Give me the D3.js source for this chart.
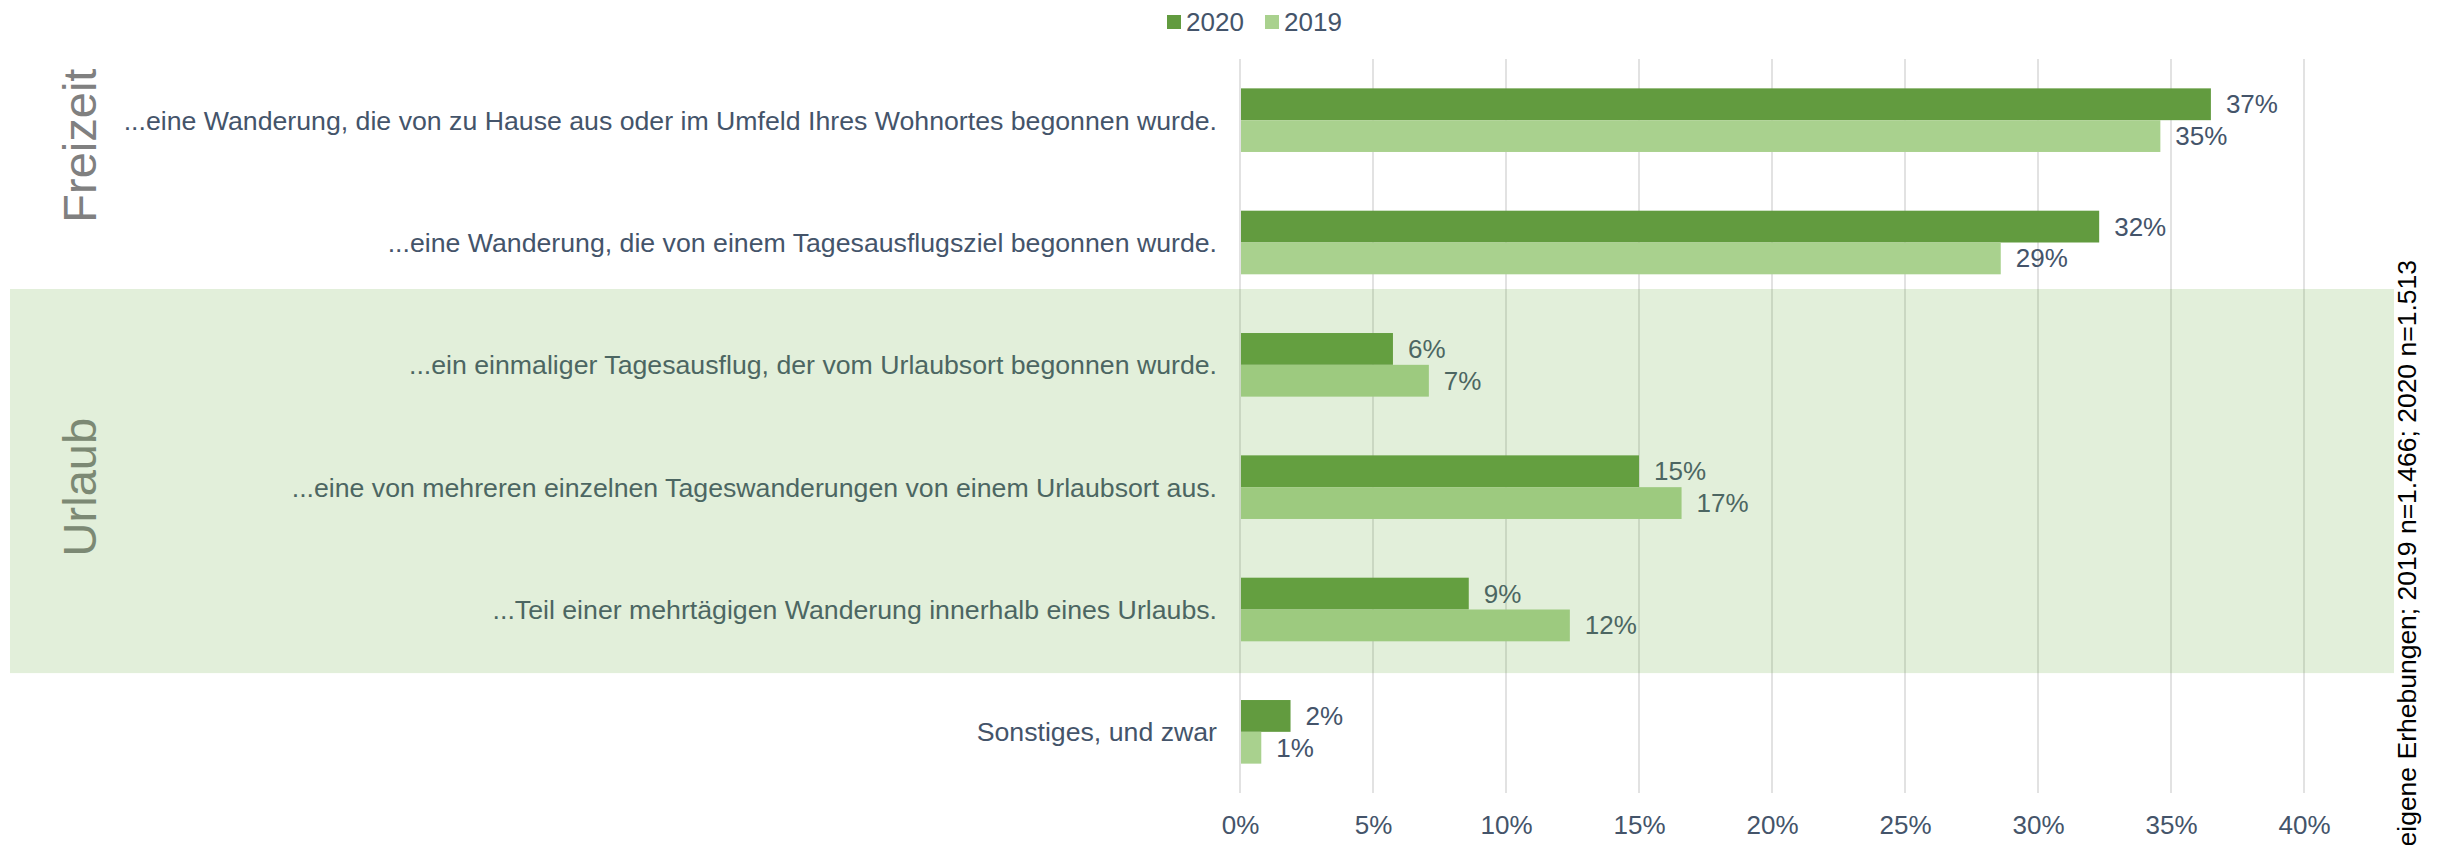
<!DOCTYPE html>
<html>
<head>
<meta charset="utf-8">
<script src="https://cdn.jsdelivr.net/npm/d3@7"></script>
<style>
  body { margin: 0; background: #fff; }
  text { font-family: "Liberation Sans", Arial, sans-serif; }
</style>
</head>
<body>
<script>
// Wanderanlass 2019 vs 2020, horizontal grouped bars

var categories = [
  '...eine Wanderung, die von zu Hause aus oder im Umfeld Ihres Wohnortes begonnen wurde.',
  '...eine Wanderung, die von einem Tagesausflugsziel begonnen wurde.',
  '...ein einmaliger Tagesausflug, der vom Urlaubsort begonnen wurde.',
  '...eine von mehreren einzelnen Tageswanderungen von einem Urlaubsort aus.',
  '...Teil einer mehrtägigen Wanderung innerhalb eines Urlaubs.',
  'Sonstiges, und zwar'
];
var seriesNames = ['2020', '2019'];
var values2020 = [0.365, 0.323, 0.0575, 0.150, 0.086, 0.019];
var values2019 = [0.346, 0.286, 0.071, 0.166, 0.124, 0.008];
var xTicks = [0, 0.05, 0.10, 0.15, 0.20, 0.25, 0.30, 0.35, 0.40];
var groupNames = ['Freizeit', 'Urlaub'];
var sourceNote = 'eigene Erhebungen; 2019 n=1.466; 2020 n=1.513';

var colors = { '2020': '#629b3f', '2019': '#a9d18e' };
var textColor = '#44546a';

var width = 2440, height = 845;

var svg = d3.select('body')
  .append('svg')
  .attr('width', width)
  .attr('height', height);

var x = d3.scaleLinear().domain([0, 0.40]).range([1240, 2304]);
var y = d3.scaleBand().domain(categories).range([59, 793])
  .paddingInner(0.48).paddingOuter(0.24);
var ySeries = d3.scaleBand().domain(seriesNames).range([0, y.bandwidth()]);

var rows = categories.map(function (c, i) {
  return { cat: c, values: [
    { key: '2020', v: values2020[i] },
    { key: '2019', v: values2019[i] }
  ] };
});

// gridlines
svg.append('g')
  .selectAll('line')
  .data(xTicks)
  .enter()
  .append('line')
  .attr('x1', function (d) { return x(d); })
  .attr('x2', function (d) { return x(d); })
  .attr('y1', y.range()[0])
  .attr('y2', y.range()[1])
  .attr('stroke', '#d9d9d9')
  .attr('stroke-width', 1.5);

// x axis labels
var xAxis = d3.axisBottom(x).tickValues(xTicks).tickFormat(d3.format('.0%')).tickSize(0).tickPadding(0);
var gx = svg.append('g')
  .attr('transform', 'translate(0,' + 834 + ')')
  .call(xAxis);
gx.select('.domain').remove();
gx.selectAll('text')
  .attr('dy', 0)
  .attr('y', 0)
  .style('font-size', '26px')
  .style('font-family', '"Liberation Sans", Arial, sans-serif')
  .attr('fill', textColor);

// bars
var groups = svg.append('g')
  .selectAll('g')
  .data(rows)
  .enter()
  .append('g')
  .attr('transform', function (d) { return 'translate(0,' + y(d.cat) + ')'; });

groups.selectAll('rect')
  .data(function (d) { return d.values; })
  .enter()
  .append('rect')
  .attr('x', x(0) + 1)
  .attr('y', function (d) { return ySeries(d.key); })
  .attr('width', function (d) { return x(d.v) - x(0) - 1; })
  .attr('height', ySeries.bandwidth())
  .attr('fill', function (d) { return colors[d.key]; });

groups.selectAll('text.val')
  .data(function (d) { return d.values; })
  .enter()
  .append('text')
  .attr('class', 'val')
  .attr('x', function (d) { return x(d.v) + 15; })
  .attr('y', function (d) { return ySeries(d.key) + ySeries.bandwidth() / 2; })
  .attr('dy', '0.35em')
  .attr('fill', textColor)
  .style('font-size', '26px')
  .text(function (d) { return d3.format('.0%')(d.v); });

// category labels
svg.append('g')
  .selectAll('text')
  .data(categories)
  .enter()
  .append('text')
  .attr('x', x(0) - 23)
  .attr('y', function (d) { return y(d) + y.bandwidth() / 2; })
  .attr('dy', '0.35em')
  .attr('text-anchor', 'end')
  .attr('fill', textColor)
  .style('font-size', '26.7px')
  .text(function (d) { return d; });

// group labels (rotated)
var groupY = [y(categories[0]) + y.bandwidth() * 0.9, (y(categories[2]) + y(categories[4]) + y.bandwidth()) / 2];
svg.append('g')
  .selectAll('text')
  .data(groupNames)
  .enter()
  .append('text')
  .attr('transform', function (d, i) { return 'translate(96,' + groupY[i] + ') rotate(-90)'; })
  .attr('text-anchor', 'middle')
  .attr('fill', '#808080')
  .style('font-size', '47px')
  .text(function (d) { return d; });

// legend
var legend = svg.append('g')
  .selectAll('g')
  .data(seriesNames)
  .enter()
  .append('g')
  .attr('transform', function (d, i) { return 'translate(' + (1167 + i * 98) + ',15)'; });
legend.append('rect')
  .attr('width', 14)
  .attr('height', 14)
  .attr('fill', function (d) { return colors[d]; });
legend.append('text')
  .attr('x', 19)
  .attr('y', 16)
  .attr('fill', textColor)
  .style('font-size', '26px')
  .text(function (d) { return d; });

// source note
svg.append('text')
  .attr('transform', 'translate(2416,260) rotate(-90)')
  .attr('text-anchor', 'end')
  .attr('fill', '#000')
  .style('font-size', '26.5px')
  .text(sourceNote);

// Urlaub highlight band, laid over everything
svg.append('rect')
  .attr('x', 10)
  .attr('y', y(categories[2]) - y.step() * 0.36)
  .attr('width', 2394 - 10)
  .attr('height', (y(categories[4]) + y.bandwidth() + y.step() * 0.26) - (y(categories[2]) - y.step() * 0.36))
  .attr('fill', '#70ad47')
  .attr('fill-opacity', 0.2);
</script>
</body>
</html>
